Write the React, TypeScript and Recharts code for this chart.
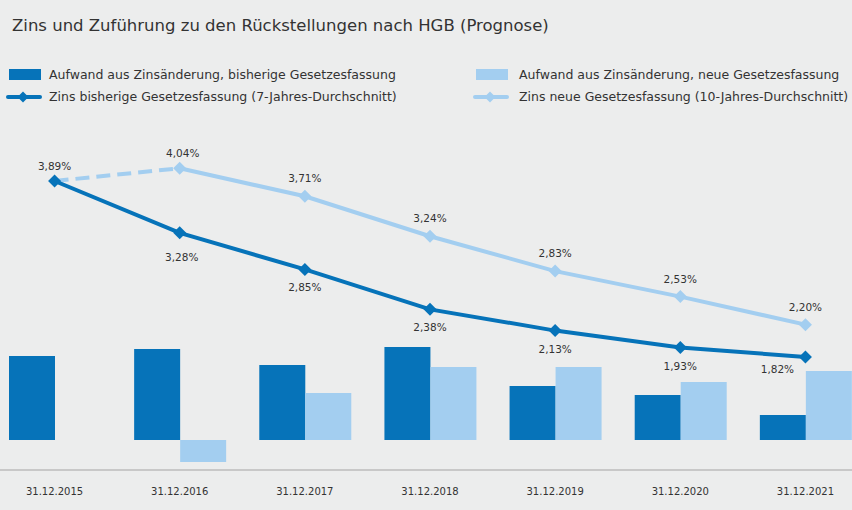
import React from 'react';
import { ComposedChart, Bar, Line, XAxis, YAxis, LabelList } from 'recharts';

// Stichtage
const categories = ['31.12.2015', '31.12.2016', '31.12.2017', '31.12.2018', '31.12.2019', '31.12.2020', '31.12.2021'];

// Aufwand aus Zinsänderung (relative Größen, aus der Grafik geschätzt)
const aufwandBisher = [84, 91, 75, 93, 54, 45, 25];
const aufwandNeu = [null, -22, 47, 73, 73, 58, 69];

// Zinssätze in %
const zinsBisher = [3.89, 3.28, 2.85, 2.38, 2.13, 1.93, 1.82];
const zinsNeu = [3.89, 4.04, 3.71, 3.24, 2.83, 2.53, 2.2];

const DARK = '#0673b9';
const LIGHT = '#a3cef0';
const TEXT = '#333333';
const FONT = '"DejaVu Sans", Verdana, sans-serif';

const data = categories.map((c, i) => ({
  date: c,
  aufwandBisher: aufwandBisher[i],
  aufwandNeu: aufwandNeu[i],
  zinsBisher: zinsBisher[i],
  // first segment of the new rate is dashed, the rest solid
  zinsNeuDashed: i <= 1 ? zinsNeu[i] : null,
  zinsNeuSolid: i >= 1 ? zinsNeu[i] : null,
}));

const fmt = (v: number) => v.toFixed(2).replace('.', ',') + '%';

const Diamond = (color: string) => (props: any) => {
  const { cx, cy, index, value } = props;
  if (value == null || cx == null || cy == null) return <g key={index} />;
  const r = 6.5;
  return (
    <path
      key={index}
      d={`M${cx},${cy - r}L${cx + r},${cy}L${cx},${cy + r}L${cx - r},${cy}Z`}
      fill={color}
    />
  );
};

// label placement tweaks (dark line: first above, rest below)
const darkLabelShift: Record<number, { dx: number; dy: number }> = {
  1: { dx: 2, dy: 6 },
  6: { dx: -28, dy: -6 },
};

const darkLabel = (props: any) => {
  const { x, y, value, index } = props;
  if (value == null) return null;
  const above = index === 0;
  const s = darkLabelShift[index] || { dx: 0, dy: 0 };
  return (
    <text
      x={x + s.dx}
      y={(above ? y - 15 : y + 18) + s.dy}
      textAnchor="middle"
      dominantBaseline="central"
      fill={TEXT}
      fontSize={10.5}
      fontFamily={FONT}
    >
      {fmt(value)}
    </text>
  );
};

const lightLabel = (props: any) => {
  const { x, y, value, index } = props;
  if (value == null || index === 0) return null;
  return (
    <text
      x={x + (index === 1 ? 3 : 0)}
      y={y - (index === 1 ? 15 : 18)}
      textAnchor="middle"
      dominantBaseline="central"
      fill={TEXT}
      fontSize={10.5}
      fontFamily={FONT}
    >
      {fmt(value)}
    </text>
  );
};

const LegendLine = ({ color }: { color: string }) => (
  <svg width={36} height={12} style={{ display: 'block' }}>
    <line x1={2} y1={6} x2={34} y2={6} stroke={color} strokeWidth={4} strokeLinecap="round" />
    <path d="M17,0.5L22.5,6L17,11.5L11.5,6Z" fill={color} />
  </svg>
);

const legendText: React.CSSProperties = {
  position: 'absolute',
  fontSize: 12.5,
  color: TEXT,
  fontFamily: FONT,
  lineHeight: '16px',
  whiteSpace: 'nowrap',
};

export default function App() {
  return (
    <div
      style={{
        position: 'fixed',
        left: 0,
        top: 0,
        width: 852,
        height: 510,
        overflow: 'hidden',
        background: '#eceded',
        fontFamily: FONT,
      }}
    >
      <div style={{ position: 'absolute', left: -8, top: 0 }}>
        <ComposedChart
          width={876}
          height={510}
          data={data}
          margin={{ top: 130, right: 0, bottom: 10, left: 0 }}
          barGap={0}
        >
          <XAxis
            dataKey="date"
            height={30}
            tickLine={false}
            tickSize={0}
            tickMargin={18}
            axisLine={{ stroke: '#c8c8c8', strokeWidth: 2 }}
            tick={{ fill: TEXT, fontSize: 10, fontFamily: FONT }}
            interval={0}
          />
          <YAxis yAxisId="bar" hide domain={[-30, 310]} allowDataOverflow />
          <YAxis yAxisId="line" hide domain={[0.49, 4.49]} allowDataOverflow />
          <Bar yAxisId="bar" dataKey="aufwandBisher" fill={DARK} barSize={46} isAnimationActive={false} />
          <Bar yAxisId="bar" dataKey="aufwandNeu" fill={LIGHT} barSize={46} isAnimationActive={false} />
          <Line
            yAxisId="line"
            dataKey="zinsNeuDashed"
            stroke={LIGHT}
            strokeWidth={4}
            strokeDasharray="14 7"
            dot={false}
            activeDot={false}
            connectNulls={false}
            isAnimationActive={false}
          />
          <Line
            yAxisId="line"
            dataKey="zinsNeuSolid"
            stroke={LIGHT}
            strokeWidth={4}
            dot={Diamond(LIGHT)}
            activeDot={false}
            isAnimationActive={false}
          >
            <LabelList dataKey="zinsNeuSolid" content={lightLabel} />
          </Line>
          <Line
            yAxisId="line"
            dataKey="zinsBisher"
            stroke={DARK}
            strokeWidth={4}
            dot={Diamond(DARK)}
            activeDot={false}
            isAnimationActive={false}
          >
            <LabelList dataKey="zinsBisher" content={darkLabel} />
          </Line>
        </ComposedChart>
      </div>

      <div
        style={{
          position: 'absolute',
          left: 12,
          top: 15,
          fontSize: 16.5,
          color: TEXT,
          whiteSpace: 'nowrap',
          lineHeight: '22px',
        }}
      >
        Zins und Zuführung zu den Rückstellungen nach HGB (Prognose)
      </div>

      <div style={{ position: 'absolute', left: 9, top: 69, width: 32, height: 11, background: DARK }} />
      <div style={{ ...legendText, left: 49, top: 67 }}>Aufwand aus Zinsänderung, bisherige Gesetzesfassung</div>
      <div style={{ position: 'absolute', left: 476, top: 69, width: 32, height: 11, background: LIGHT }} />
      <div style={{ ...legendText, left: 519, top: 67 }}>Aufwand aus Zinsänderung, neue Gesetzesfassung</div>

      <div style={{ position: 'absolute', left: 6, top: 91 }}>
        <LegendLine color={DARK} />
      </div>
      <div style={{ ...legendText, left: 49, top: 89 }}>Zins bisherige Gesetzesfassung (7-Jahres-Durchschnitt)</div>
      <div style={{ position: 'absolute', left: 473, top: 91 }}>
        <LegendLine color={LIGHT} />
      </div>
      <div style={{ ...legendText, left: 519, top: 89 }}>Zins neue Gesetzesfassung (10-Jahres-Durchschnitt)</div>
    </div>
  );
}
